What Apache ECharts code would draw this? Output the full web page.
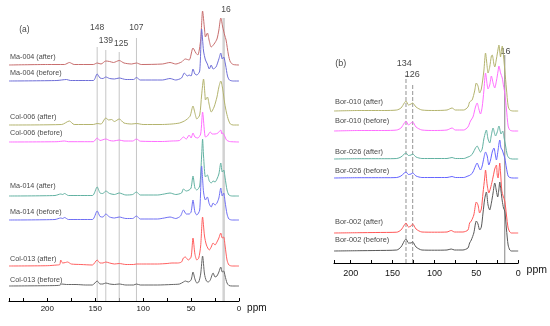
<!DOCTYPE html>
<html><head><meta charset="utf-8">
<script src="https://cdn.jsdelivr.net/npm/echarts@6/dist/echarts.min.js"></script>
<style>html,body{margin:0;padding:0;background:#fff}#c{width:550px;height:326px}</style>
</head><body><div id="c"></div>
<script>
// ---------- Panel (a) ----------
const namesA = ['Ma-004 (after)','Ma-004 (before)','Col-006 (after)','Col-006 (before)','Ma-014 (after)','Ma-014 (before)','Col-013 (after)','Col-013 (before)'];
const offsetsA = [236, 220, 176, 159, 105, 81, 35, 15];
const ma004After = [[240,0],[200,0.5],[182,0.5],[177,2.5],[172,0.5],[152,0.5],[148,2],[144,1],[139,4],[135,3.5],[131,2.5],[125,4.5],[120,2],[112,1],[107,2],[102,0.5],[80,1],[72,2.5],[66,1],[60,3],[56,6],[52,5],[48,17],[45,12],[43,10],[40,25],[38,54],[36,36],[35,28],[33,32],[31,24],[29,18],[26,21],[23,26],[21,35],[19,47],[17,38],[15,30],[13.5,25],[11,10],[9,3],[6,0.5],[0,0]];
const ma004Before = [[240,0],[190,0.5],[180,1.5],[176,0.5],[152,0.5],[148,7],[145,3],[142,2.5],[139,4],[135,2.5],[130,2],[125,3],[118,1.5],[110,1.5],[107,3.5],[103,1],[80,1],[72,2.5],[66,1],[60,3],[57,8],[54,5],[52,6],[50,5],[48,12],[46,7],[44,6],[41,10],[39,52],[37,30],[35,21],[33,17],[31,12],[29,16],[27,12],[24,14],[21,22],[19,28],[17.5,22],[16,24],[14,16],[12,5],[10,1],[6,0],[0,0]];
const col006After = [[240,0],[185,0.5],[177,4],[172,0.5],[152,0.5],[148,1.5],[144,1],[139,7],[136,5],[133,5.5],[130,3.5],[125,6],[120,2],[112,1],[107,1.5],[100,0.5],[80,0.5],[70,1],[62,2],[57,4],[54,6],[51,9],[48,19],[46,12],[44,6],[41,10],[39,30],[37,46],[35.5,30],[35,25],[33,28],[31,20],[29,13],[26,18],[23,28],[21,38],[19,44],[17,36],[15,22],[13,12],[11,5],[9,1],[6,0],[0,0]];
const col006Before = [[240,0],[190,0.3],[182,1],[178,0.3],[152,0.3],[148,4],[145,1.5],[139,3],[135,1.5],[131,1],[125,2],[120,1],[111,1],[107,3],[103,0.8],[80,0.5],[70,1],[62,1.5],[58,5],[55,3],[52,7],[50,4],[48,9],[46,5],[43,4],[40,8],[38,30],[36,10],[35,5],[33,6],[30,10],[28,8],[25,8],[22,9],[19,12],[18,8],[17,9],[15,6],[13,2],[10,0.5],[0,0]];
const ma014After = [[240,0],[192,0.5],[186,2],[184,1.5],[182,2.5],[178,0.5],[153,0.5],[148,9],[145,3],[142,2.5],[139,5],[135,2.5],[130,1.5],[125,3],[118,1],[111,1.5],[107,4],[103,1],[85,1],[78,2],[72,3],[66,1.5],[60,3],[58,7],[55,5],[52,6],[50,8],[48,20],[46,8],[44,6],[41,10],[39,40],[38,57],[37,40],[35,19],[33,21],[31,15],[29,13],[27,15],[25,14],[23,17],[21,22],[19,33],[17.5,24],[16,26],[14.5,18],[12.5,6],[10.5,1],[7,0],[0,0]];
const ma014Before = [[240,0],[192,0.5],[186,2],[184,1.5],[182,2.5],[178,0.5],[153,0.5],[148,9],[145,3.5],[142,3],[139,6],[135,3],[130,2],[125,3],[118,1.5],[111,1.5],[107,4],[103,1],[85,1],[78,2],[72,3],[66,1.5],[61,4],[58,10],[55,6],[52,6],[50,8],[48,20],[46,8],[44,5],[41,10],[39,54],[37,28],[35,20],[33,23],[31,16],[29,13],[27,17],[25,15],[23,17],[21,22],[19,32],[17.5,24],[16,27],[14.5,18],[12.5,6],[10.5,1],[7,0],[0,0]];
const col013After = [[240,0],[200,0.3],[190,1],[187,1.5],[186,6],[184,3],[181,3.5],[179,4],[175,2],[165,1.5],[153,1],[148,6],[145,3],[142,3],[139,4],[135,3],[130,2],[125,2.5],[118,1.5],[110,1.5],[107,2],[100,2],[85,2],[75,2.5],[70,3],[64,3],[60,4],[58,8],[56,9],[53,6],[50,9],[48,28],[46,12],[44,6],[42,8],[40,20],[38,49],[36,30],[34,21],[31,16],[29,19],[27,23],[25,21],[23,24],[21,28],[19,33],[17.5,28],[16,29],[14.5,20],[12.5,6],[10.5,1],[7,0],[0,0]];
const col013Before = [[240,0],[200,0.3],[190,0.5],[187,0.8],[185,2],[180,1.5],[170,1.5],[160,1],[153,1],[148,5],[145,2],[142,2],[139,3],[135,2],[130,1.5],[125,2],[118,1],[110,1],[107,2],[103,1],[85,1],[70,1.5],[62,2],[58,4],[56,5],[53,4],[50,6],[48,14],[46,7],[44,3],[42,4],[40,12],[38,30],[36,12],[34,5],[32,4],[30,6],[27,13],[25,9],[23,10],[21,14],[19,19],[17.5,14],[16,15],[14.5,10],[12.5,3],[10.5,0.5],[7,0],[0,0]];
const spectraA = [ma004After, ma004Before, col006After, col006Before, ma014After, ma014Before, col013After, col013Before];
const colorsA = ['#c86e6e','#6e6ed8','#b4b46e','#ff6eff','#62b2a2','#7070f4','#ff6060','#666666'];
const labelPosA = [243.7, 227.7, 183.7, 167.7, 115, 88.7, 41.7, 21];
const refA = [148, 139, 125, 107, 16];
const refTopA = [254, 251, 249, 263, 283];
const refTextA = ['148','139','125','107','16'];
const refTextXA = [148, 139, 123, 107, 13.6];
const refTextYA = [273, 260, 257, 273, 291];

// ---------- Panel (b) ----------
const namesB = ['Bor-010 (after)','Bor-010 (before)','Bor-026 (after)','Bor-026 (before)','Bor-002 (after)','Bor-002 (before)'];
const offsetsB = [152, 132, 104, 85, 30, 12];
const bor010After = [[220,0],[190,0.5],[160,0.5],[145,1],[140,3],[136,8],[134,10],[131,6],[128,7],[126,8],[122,4],[115,1],[100,0.5],[85,1],[79,3],[75,1],[65,1],[60,4],[58,9],[55,11],[52,20],[50,28],[48,25],[46,18],[44,22],[41,40],[39,58],[37,44],[36,38],[34,44],[32,55],[31,56],[29,47],[28,44],[26,52],[24,62],[23,66],[21,54],[20.5,54],[19,65],[17.5,55],[16,41],[14,22],[12,5],[10,1],[6,0],[0,0]];
const bor010Before = [[220,0],[190,0.5],[160,0.5],[145,1],[140,3],[136,8],[134,10],[131,6],[128,8],[126,9],[122,4],[115,1],[100,0.5],[85,1],[79,3],[75,1],[65,1],[60,4],[57,10],[54,14],[51,24],[49,28],[47,22],[45,17],[43,24],[41,40],[39,58],[37,46],[36,42],[34,46],[32,55],[30,48],[28,43],[26,50],[24,60],[23,65],[21,58],[19,53],[17.5,45],[16,38],[14,22],[12,5],[10,1],[6,0],[0,0]];
const bor026After = [[220,0],[190,0.3],[160,0.3],[145,0.5],[140,2],[136,5],[134,6],[131,3.5],[128,4],[126,5],[122,2],[115,0.5],[85,0.5],[79,1.5],[75,0.5],[65,0.5],[60,2],[57,3],[54,6],[51,11],[49,13],[47,10],[45,7],[43,10],[41,20],[39,27],[38,29],[36,20],[34,16],[32,24],[30,31],[28,25],[27,23],[25,27],[23,33],[21,26],[20.5,25],[18.5,28],[17,22],[15,13],[13,4],[11,1],[7,0],[0,0]];
const bor026Before = [[220,0],[190,0.3],[160,0.3],[145,0.5],[140,2],[136,5],[134,6],[131,3.5],[128,4],[126,5],[122,2],[115,0.5],[85,0.5],[79,1.5],[75,0.5],[65,0.5],[60,2],[57,3],[54,6],[51,12],[49,15],[47,11],[45,8],[43,12],[41,20],[39,26],[37,22],[35,13],[33,18],[31,26],[29,30],[27,22],[26,18],[24,28],[22,38],[20.5,30],[19,28],[17.5,24],[16,20],[14,10],[12,2],[10,0.5],[6,0],[0,0]];
const bor002After = [[220,0],[190,0.3],[170,0.5],[145,0.8],[140,3],[136,8],[134,10],[131,6],[128,7],[126,9],[122,4],[115,1],[100,0.8],[85,1],[80,2.5],[76,1],[66,1],[60,3],[58,10],[56,12],[53,18],[50,31],[48,28],[46,20],[44,24],[42,40],[40,55],[39,63],[37,48],[35,40],[33,45],[31,52],[29,60],[28,64],[26,68],[25,58],[24,55],[23,62],[22,70],[21,60],[19.5,42],[18,37],[16,32],[14,18],[12,5],[10,1],[8,0],[0,0]];
const bor002Before = [[220,0],[190,0.3],[170,0.5],[145,1],[140,4],[136,10],[134,12],[131,8],[128,8],[126,9],[122,4],[115,1],[100,0.8],[85,1],[80,2],[76,1],[66,1],[60,3],[58,8],[56,11],[53,18],[50,30],[48,27],[46,21],[44,24],[42,38],[40,52],[38,59],[36,46],[34,41],[32,48],[30,58],[28,68],[26,60],[24.5,54],[23,62],[22,69],[20.5,60],[19,50],[17.5,43],[16,40],[14,22],[12,6],[10,1],[8,0],[0,0]];
const spectraB = [bor010After, bor010Before, bor026After, bor026Before, bor002After, bor002Before];
const colorsB = ['#b4b46e','#ff6eff','#62b2a2','#6666ff','#ff5858','#585858'];
const labelPosB = [160.7, 142.3, 111.3, 92, 41.3, 23];
const refB = [134, 126, 16];
const refTopB = [188, 180, 208];
const refTextB = ['134','126','16'];
const refTextXB = [136, 126.6, 15];
const refTextYB = [199, 188, 211];

const FONT = 'Liberation Sans, Arial, sans-serif';
const series = [];
function addPanel(idx, spectra, offsets, colors, names, labelPos, xLeft, refs, refTops, refStyles, refTexts, refTX, refTY, panelTag, tagX, tagY, labelSize, refFont) {
  spectra.forEach((s, i) => {
    series.push({type:'line', xAxisIndex:idx, yAxisIndex:idx, data: s.map(p => [p[0], p[1] + offsets[i]]),
      showSymbol:false, smooth:0.25, lineStyle:{width:1, color:colors[i]}, silent:true, z:3});
  });
  refs.forEach((r, i) => {
    series.push({type:'line', xAxisIndex:idx, yAxisIndex:idx, data:[[r,0],[r,refTops[i]]],
      showSymbol:false, lineStyle:refStyles[i], silent:true, z:2});
  });
  series.push({type:'scatter', xAxisIndex:idx, yAxisIndex:idx, symbolSize:0, silent:true,
    data: names.map((n, i) => ({value:[xLeft, labelPos[i]], name:n})),
    label:{show:true, position:'right', distance:1, formatter:p=>p.name, fontSize:labelSize, fontFamily:FONT, color:'#111'}});
  series.push({type:'scatter', xAxisIndex:idx, yAxisIndex:idx, symbolSize:0, silent:true,
    data: refTexts.map((t, i) => ({value:[refTX[i], refTY[i]], name:t})).concat([{value:[tagX, tagY], name:panelTag}]),
    label:{show:true, position:'inside', formatter:p=>p.name, fontSize:refFont, fontFamily:FONT, color:'#111'}});
}
const lightA = {color:'#c6c6c6', width:1};
addPanel(0, spectraA, offsetsA, colorsA, namesA, labelPosA, 240, refA, refTopA,
  [lightA, lightA, lightA, lightA, {color:'#d2d2d2', width:2.5}], refTextA, refTextXA, refTextYA, '(a)', 224, 271, 7.2, 8.5);
const dashB = {color:'#777', width:0.8, type:[4,2]};
addPanel(1, spectraB, offsetsB, colorsB, namesB, labelPosB, 220, refB, refTopB,
  [dashB, dashB, {color:'#666', width:0.8}], refTextB, refTextXB, refTextYB, '(b)', 212, 199, 7.4, 9);

function xAx(idx, max, fs, nfs) {
  return {type:'value', gridIndex:idx, min:0, max:max, interval:50, inverse:true,
    axisLine:{show:true, lineStyle:{color:'#000', width:1}},
    axisTick:{show:true, inside:true, length:3, lineStyle:{color:'#000'}},
    minorTick:{show:true, splitNumber:2, length:3, lineStyle:{color:'#000'}},
    splitLine:{show:false},
    axisLabel:{fontSize:fs, fontFamily:FONT, color:'#111', margin: idx===0?4:6, showMaxLabel:false},
    name:'ppm', nameLocation:'start', nameGap:3,
    nameTextStyle:{fontSize:nfs, fontFamily:FONT, color:'#111', verticalAlign:'top', padding:[2,0,0,0]}};
}
const option = {
  animation:false,
  backgroundColor:'#fff',
  grid:[{left:9, right:311, top:0, bottom:25}, {left:334, right:30, top:0, bottom:63}],
  xAxis:[xAx(0, 240, 8, 10), xAx(1, 220, 9, 10.5)],
  yAxis:[{type:'value', gridIndex:0, min:0, max:301, show:false},
         {type:'value', gridIndex:1, min:0, max:263, show:false}],
  series: series
};
const chart = echarts.init(document.getElementById('c'), null, {renderer:'canvas'});
chart.setOption(option);
</script></body></html>
